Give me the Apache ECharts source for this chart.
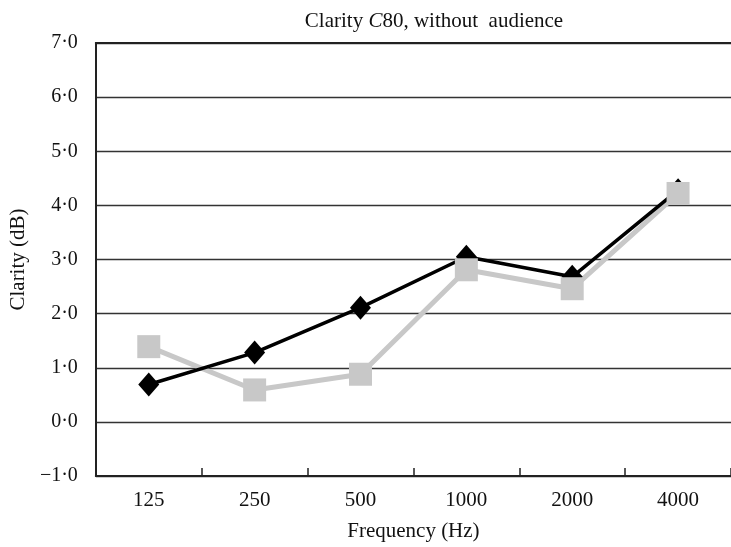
<!DOCTYPE html>
<html>
<head>
<meta charset="utf-8">
<script src="https://cdn.jsdelivr.net/npm/echarts@6/dist/echarts.min.js"></script>
<style>
  html, body { margin: 0; padding: 0; background: #fff; }
  #chart { width: 731px; height: 547px; }
</style>
</head>
<body>
<div id="chart"></div>
<script>
// Octave-band centre frequencies
const frequencies = ['125', '250', '500', '1000', '2000', '4000'];
// Clarity C80 (dB), black diamond series
const clarityBlack = [0.69, 1.28, 2.11, 3.05, 2.68, 4.28];
// Clarity C80 (dB), grey square series
const clarityGrey = [1.39, 0.59, 0.88, 2.81, 2.46, 4.22];
// Vertical axis range
const yMin = -1, yMax = 7, yStep = 1;

const serif = '"Liberation Serif", "DejaVu Serif", serif';
const fmt = v => v.toFixed(1).replace('.', '\u00B7').replace('-', '\u2212');

const chart = echarts.init(document.getElementById('chart'), null, { renderer: 'canvas' });
chart.setOption({
  animation: false,
  backgroundColor: '#fff',
  title: {
    text: 'Clarity {i|C}80, without  audience',
    left: 429,
    textAlign: 'center',
    top: 6,
    textStyle: {
      fontFamily: serif, fontSize: 21, fontWeight: 'normal', color: '#111',
      rich: { i: { fontFamily: serif, fontSize: 21, fontStyle: 'italic', color: '#111' } }
    }
  },
  grid: { left: 94, top: 43, height: 436, width: 645 },
  xAxis: [
    {
      type: 'category',
      data: frequencies,
      boundaryGap: true,
      name: 'Frequency (Hz)',
      nameLocation: 'middle',
      nameGap: 45,
      nameTextStyle: { fontFamily: serif, fontSize: 21, color: '#111' },
      axisLine: { onZero: false, lineStyle: { color: '#222', width: 2 } },
      axisTick: { show: true, inside: true, length: 8, interval: 0, lineStyle: { color: '#222', width: 1.5 } },
      axisLabel: { fontFamily: serif, fontSize: 21, color: '#111', margin: 14, interval: 0 },
      splitLine: { show: false }
    },
    {
      // top frame line of the plot area
      type: 'category',
      data: frequencies,
      position: 'top',
      axisLine: { onZero: false, lineStyle: { color: '#222', width: 2 } },
      axisTick: { show: false },
      axisLabel: { show: false },
      splitLine: { show: false }
    }
  ],
  yAxis: {
    type: 'value',
    min: yMin, max: yMax, interval: yStep,
    name: 'Clarity (dB)',
    nameLocation: 'middle',
    nameGap: 64,
    nameRotate: 90,
    nameTextStyle: { fontFamily: serif, fontSize: 21, color: '#111' },
    axisLine: { show: true, onZero: false, lineStyle: { color: '#222', width: 2 } },
    axisTick: { show: false },
    axisLabel: { fontFamily: serif, fontSize: 20, color: '#111', margin: 18, formatter: fmt },
    splitLine: { show: true, lineStyle: { color: '#333', width: 1.4 } }
  },
  series: [
    {
      name: 'grey-line',
      type: 'line',
      data: clarityGrey,
      showSymbol: false,
      symbol: 'none',
      lineStyle: { color: '#c8c8c8', width: 5 },
      z: 2
    },
    {
      name: 'black',
      type: 'line',
      data: clarityBlack,
      symbol: 'diamond',
      symbolSize: [21, 24],
      itemStyle: { color: '#000' },
      lineStyle: { color: '#000', width: 3.5 },
      z: 3
    },
    {
      name: 'grey-marks',
      type: 'scatter',
      data: clarityGrey,
      symbol: 'rect',
      symbolSize: 23,
      itemStyle: { color: '#c8c8c8', opacity: 1 },
      z: 4
    }
  ]
});
</script>
</body>
</html>
